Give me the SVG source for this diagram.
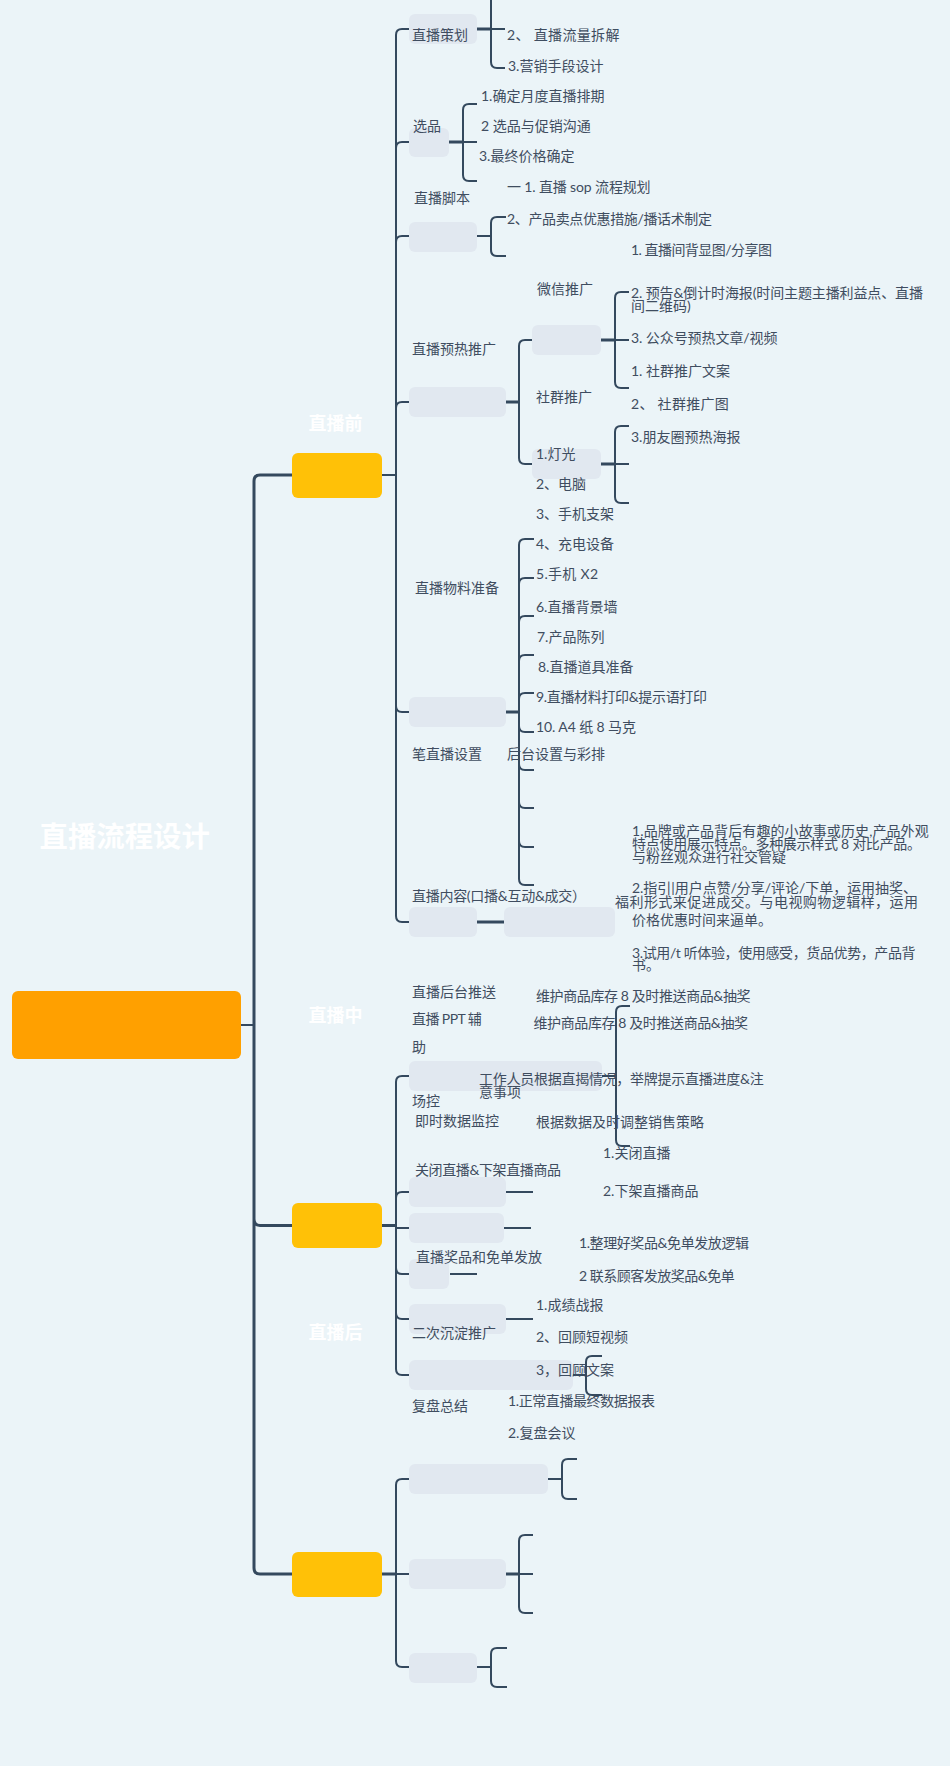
<svg xmlns="http://www.w3.org/2000/svg" width="950" height="1766" viewBox="0 0 950 1766">
<style>
text{font-family:Lato,"Noto Sans CJK SC",sans-serif;font-size:14px;fill:#3f4d60}
.w{fill:#fff;font-weight:700;font-size:18px}
.t{fill:#fff;font-weight:700;font-size:28.4px}
.n{fill:#e1e8f0}
.l{fill:#ffc107}
.c{fill:none;stroke:#34495e;stroke-width:2}
.s{fill:none;stroke:#34495e;stroke-width:3}
</style>
<rect width="950" height="1766" fill="#ebf4f8"/>
<g id="connectors">
<path class="c" d="M241 1025H254"/>
<path class="s" d="M292 475H260Q254 475 254 481V1568Q254 1574 260 1574H292M254 1219Q254 1225.500 260 1225.500H292"/>
<path class="c" d="M382 475H396M409 29H402Q396 29 396 35V916Q396 922 402 922H409M396 148Q396 142 402 142H409M396 242Q396 236 402 236H409M396 408Q396 402 402 402H409M396 706Q396 712 402 712H409"/>
<path class="s" d="M382 1225.500H396"/>
<path class="c" d="M409 1076H402Q396 1076 396 1082V1369Q396 1375 402 1375H409M396 1198Q396 1192 402 1192H409M396 1228H409M396 1268Q396 1274 402 1274H409M396 1313Q396 1319 402 1319H409"/>
<path class="s" d="M382 1574H396"/>
<path class="c" d="M396 1574H409M409 1479H402Q396 1479 396 1485V1661Q396 1667 402 1667H409"/>
<path class="s" d="M477 29H491M449 142H463M506 402H519M601 340H615M601 464H615M506 712H519M477 922H504M506 1574H519"/>
<path class="c" d="M602 1076H616M506 1192H533M504 1228H531M450 1274H477M506 1319H533"/>
<path class="c" d="M505 29H491M491 0V62Q491 68 497 68H505M477 104H469Q463 104 463 110V175Q463 181 469 181H477M463 142H477M477 236H491M506 217H497Q491 217 491 223V250Q491 256 497 256H506"/>
<path class="c" d="M519 402V346Q519 340 525 340H532M519 402V458Q519 464 525 464H532M629 292H621Q615 292 615 298V382Q615 388 621 388H629M615 340H629M629 426H621Q615 426 615 432V497Q615 503 621 503H629M615 464H629"/>
<path class="c" d="M534 539H525Q519 539 519 545V879Q519 885 525 885H534M519 584Q519 578 525 578H534M519 622Q519 616 525 616H534M519 661Q519 655 525 655H534M519 699Q519 693 525 693H534M519 726Q519 732 525 732H534M519 764Q519 770 525 770H534M519 802Q519 808 525 808H534M519 841Q519 847 525 847H534"/>
<path class="c" d="M630 1006H622Q616 1006 616 1012V1140Q616 1146 622 1146H630M573 1375H586M602 1356H592Q586 1356 586 1362V1389Q586 1395 592 1395H602M548 1479H562M577 1459H568Q562 1459 562 1465V1493Q562 1499 568 1499H577M519 1574H533M533 1535H525Q519 1535 519 1541V1607Q519 1613 525 1613H533M477 1667H491M507 1648H497Q491 1648 491 1654V1681Q491 1687 497 1687H507"/>
</g>
<g id="root"><rect x="12" y="991" width="229" height="68" rx="6" fill="#ffa000"/><text class="t" x="39.500" y="847">直播流程设计</text></g>
<g id="before"><rect class="l" x="292" y="453" width="90" height="45" rx="6"/><text class="w" x="308.500" y="430">直播前</text></g>
<g id="during"><rect class="l" x="292" y="1203" width="90" height="45" rx="6"/><text class="w" x="308.500" y="1022">直播中</text></g>
<g id="after"><rect class="l" x="292" y="1552" width="90" height="45" rx="6"/><text class="w" x="308.500" y="1339">直播后</text></g>
<g id="n-plan"><rect class="n" x="409" y="14" width="68" height="30" rx="6"/><text x="412" y="40">直播策划</text><text x="507" y="40" textLength="112.400">2、 直播流量拆解</text><text x="508" y="71">3.营销手段设计</text></g>
<g id="n-select"><rect class="n" x="409" y="128" width="40" height="29" rx="6"/><text x="413" y="131">选品</text><text x="481" y="101">1.确定月度直播排期</text><text x="481" y="131">2 选品与促销沟通</text><text x="479" y="161">3.最终价格确定</text></g>
<g id="n-script"><rect class="n" x="409" y="222" width="68" height="30" rx="6"/><text x="414" y="203">直播脚本</text><text x="507" y="192" textLength="143.600">一 1. 直播 sop 流程规划</text><text x="507" y="224" textLength="205">2、产品卖点优惠措施/播话术制定</text></g>
<g id="n-preheat"><rect class="n" x="409" y="387" width="97" height="30" rx="6"/><text x="412" y="354">直播预热推广</text></g>
<g id="n-wechat"><rect class="n" x="532" y="325" width="69" height="30" rx="6"/><text x="537" y="294">微信推广</text><text x="631" y="255" textLength="141">1. 直播间背显图/分享图</text><text x="631" y="298" textLength="292">2. 预告&amp;倒计时海报(时间主题主播利益点、直播</text><text x="631" y="311">间二维码)</text><text x="631" y="343" textLength="146.500">3. 公众号预热文章/视频</text></g>
<g id="n-group"><rect class="n" x="532" y="449" width="69" height="30" rx="6"/><text x="536" y="402">社群推广</text><text x="631" y="376">1. 社群推广文案</text><text x="631" y="409" textLength="97.800">2、 社群推广图</text><text x="631" y="442">3.朋友圈预热海报</text></g>
<g id="n-material"><rect class="n" x="409" y="697" width="97" height="30" rx="6"/><text x="415" y="593">直播物料准备</text><text x="536" y="459">1.灯光</text><text x="536" y="489">2、电脑</text><text x="536" y="519">3、手机支架</text><text x="536" y="549">4、充电设备</text><text x="536" y="579" textLength="62">5.手机 X2</text><text x="536" y="612">6.直播背景墙</text><text x="537" y="642">7.产品陈列</text><text x="538" y="672">8.直播道具准备</text><text x="536" y="702" textLength="171">9.直播材料打印&amp;提示语打印</text><text x="536" y="732" textLength="100">10. A4 纸 8 马克</text></g>
<g id="n-setup"><text x="412" y="759">笔直播设置</text><text x="507" y="759">后台设置与彩排</text></g>
<g id="n-content"><rect class="n" x="409" y="907" width="68" height="30" rx="6"/><rect class="n" x="504" y="907" width="111" height="30" rx="6"/><text x="412" y="901" textLength="174">直播内容(口播&amp;互动&amp;成交）</text><text x="632" y="836" textLength="296.700">1.品牌或产品背后有趣的小故事或历史,产品外观</text><text x="632" y="849" textLength="289">特点使用展示特点。多种展示样式 8 对比产品。</text><text x="632" y="862">与粉丝观众进行社交管疑</text><text x="632" y="893" textLength="285">2.指引|用户点赞/分享/评论/下单，运用抽奖、</text><text x="615" y="907" textLength="303">福利形式来促进成交。与电视购物逻辑样，运用</text><text x="632" y="925">价格优惠时间来逼单。</text><text x="632" y="958" textLength="283.600">3.试用/t 听体验，使用感受，货品优势，产品背</text><text x="632" y="970">书。</text></g>
<g id="n-push"><text x="412" y="997">直播后台推送</text><text x="536" y="1001" textLength="214.500">维护商品库存 8 及时推送商品&amp;抽奖</text></g>
<g id="n-ppt"><rect class="n" x="409" y="1061" width="193" height="30" rx="6"/><text x="412" y="1024" textLength="69.800">直播 PPT 辅</text><text x="412" y="1052">助</text><text x="533.500" y="1028" textLength="214.500">维护商品库存 8 及时推送商品&amp;抽奖</text></g>
<g id="n-field"><text x="412" y="1106">场控</text><text x="479" y="1084" textLength="284.700">工作人员根据直揭情况，举牌提示直播进度&amp;注</text><text x="479" y="1097">意事项</text></g>
<g id="n-data"><text x="415" y="1126">即时数据监控</text><text x="536" y="1127">根据数据及时调整销售策略</text></g>
<g id="n-close"><rect class="n" x="409" y="1177" width="97" height="30" rx="6"/><text x="415" y="1175" textLength="146">关闭直播&amp;下架直播商品</text><text x="603" y="1158">1.关闭直播</text><text x="603" y="1196">2.下架直播商品</text></g>
<g id="n-blank"><rect class="n" x="409" y="1213" width="95" height="30" rx="6"/></g>
<g id="n-prize"><rect class="n" x="409" y="1259" width="40" height="30" rx="6"/><text x="416" y="1262">直播奖品和免单发放</text><text x="579" y="1248" textLength="170">1.整理好奖品&amp;免单发放逻辑</text><text x="579" y="1281" textLength="155.700">2 联系顾客发放奖品&amp;免单</text></g>
<g id="n-promo"><rect class="n" x="409" y="1304" width="97" height="30" rx="6"/><text x="412" y="1338">二次沉淀推广</text><text x="536" y="1310">1.成绩战报</text><text x="536" y="1342">2、回顾短视频</text></g>
<g id="n-review"><rect class="n" x="409" y="1360" width="164" height="30" rx="6"/><text x="536" y="1375">3，回顾文案</text><text x="412" y="1411">复盘总结</text><text x="508" y="1406" textLength="147">1.正常直播最终数据报表</text><text x="508" y="1438">2.复盘会议</text></g>
<g id="n-a"><rect class="n" x="409" y="1464" width="139" height="30" rx="6"/></g>
<g id="n-b"><rect class="n" x="409" y="1559" width="97" height="30" rx="6"/></g>
<g id="n-c"><rect class="n" x="409" y="1653" width="68" height="30" rx="6"/></g>
</svg>
